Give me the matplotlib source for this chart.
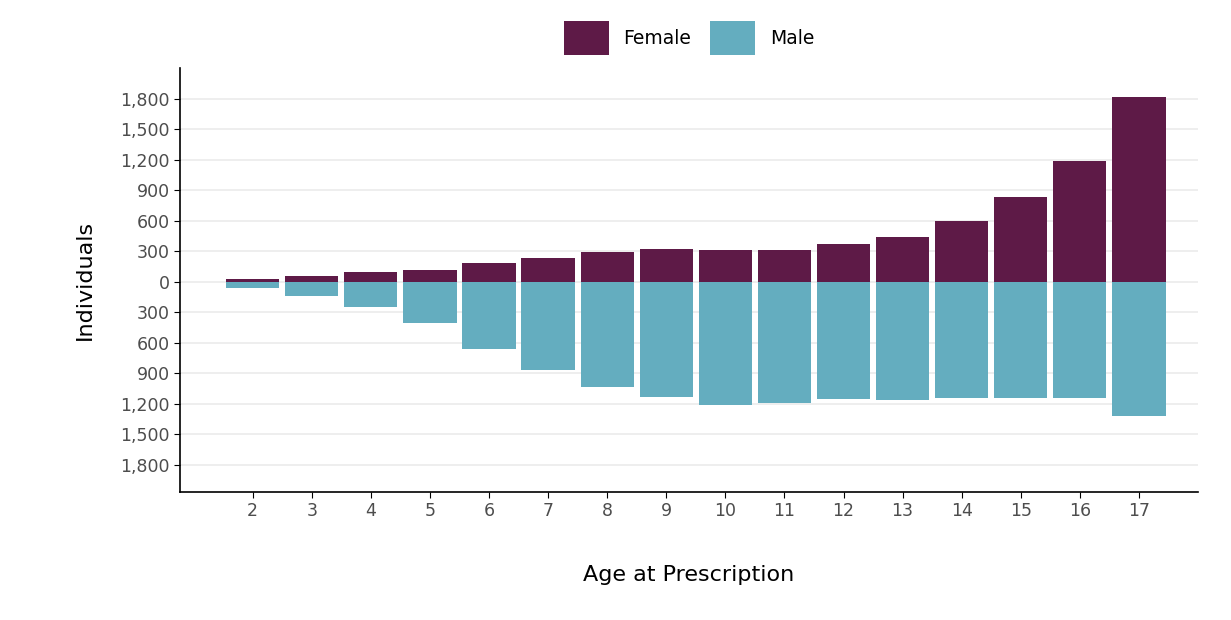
import matplotlib
matplotlib.use("Agg")
import matplotlib.pyplot as plt
from matplotlib.ticker import FuncFormatter

ages = list(range(2, 18))
female = [30, 60, 100, 120, 180, 230, 295, 325, 315, 315, 375, 445, 600, 835, 1190, 1820]
male = [60, 140, 245, 405, 660, 865, 1035, 1130, 1210, 1190, 1150, 1160, 1140, 1140, 1140, 1320]

FEMALE_C = "#5e1a47"
MALE_C = "#64adbf"

fig = plt.figure(figsize=(12.31, 6.2), dpi=100)
ax = fig.add_axes([180 / 1231, 128 / 620, 1018 / 1231, 424 / 620])

ax.bar(ages, female, width=0.9, color=FEMALE_C, label="Female", zorder=3)
ax.bar(ages, [-m for m in male], width=0.9, color=MALE_C, label="Male", zorder=3)

ticks = list(range(-1800, 1801, 300))
ax.set_yticks(ticks)
ax.yaxis.set_major_formatter(FuncFormatter(lambda v, p: f"{abs(int(v)):,}"))
ax.set_ylim(-2070, 2105)
ax.set_xticks(ages)
ax.set_xlim(0.77, 18.0)
ax.grid(axis="y", color="#ebebeb", linewidth=1.2, zorder=0)

for s in ["top", "right"]:
    ax.spines[s].set_visible(False)
for s in ["left", "bottom"]:
    ax.spines[s].set_linewidth(1.2)
ax.tick_params(labelsize=12.5, labelcolor="#4d4d4d", length=4)

ax.set_xlabel("Age at Prescription", fontsize=16, labelpad=32)
ax.set_ylabel("Individuals", fontsize=16, labelpad=18)

ax.legend(loc="lower center", bbox_to_anchor=(0.5, 1.0), ncol=2, frameon=False,
          fontsize=13.5, handlelength=2.4, handleheight=2.4, columnspacing=1.0,
          handletextpad=0.8, borderaxespad=0.3)

fig.savefig("out.png", dpi=100)
